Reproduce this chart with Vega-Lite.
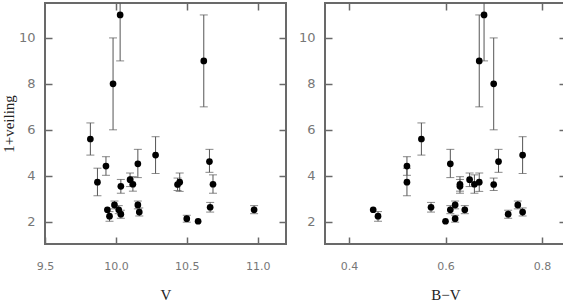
{
  "$schema": "https://vega.github.io/schema/vega-lite/v6.json",
  "padding": {"left": 0, "top": 1, "right": 1, "bottom": 0},
  "spacing": 9,
  "config": {
    "view": {"stroke": "dimgray", "strokeWidth": 2},
    "axis": {"grid": false, "domain": false, "tickColor": "dimgray", "tickSize": 7, "tickWidth": 1.5, "offset": -7,
      "labelFlush": false,
      "labelFont": "DejaVu Sans", "labelColor": "#777",
      "titleFont": "Liberation Serif", "titleFontWeight": "normal", "titleColor": "#222"}
  },
  "datasets": {
    "pts": [
      {"V": 9.82, "BV": 0.55, "y": 5.6},
      {"V": 9.98, "BV": 0.70, "y": 8.0},
      {"V": 10.03, "BV": 0.68, "y": 11.0},
      {"V": 10.62, "BV": 0.67, "y": 9.0},
      {"V": 10.28, "BV": 0.76, "y": 4.9},
      {"V": 9.87, "BV": 0.52, "y": 3.72},
      {"V": 9.93, "BV": 0.52, "y": 4.42},
      {"V": 9.94, "BV": 0.45, "y": 2.52},
      {"V": 9.955, "BV": 0.46, "y": 2.24},
      {"V": 9.99, "BV": 0.62, "y": 2.73},
      {"V": 10.02, "BV": 0.61, "y": 2.52},
      {"V": 10.035, "BV": 0.73, "y": 2.33},
      {"V": 10.035, "BV": 0.63, "y": 3.54},
      {"V": 10.10, "BV": 0.65, "y": 3.83},
      {"V": 10.12, "BV": 0.63, "y": 3.63},
      {"V": 10.155, "BV": 0.61, "y": 4.52},
      {"V": 10.155, "BV": 0.75, "y": 2.73},
      {"V": 10.165, "BV": 0.76, "y": 2.42},
      {"V": 10.435, "BV": 0.70, "y": 3.62},
      {"V": 10.45, "BV": 0.67, "y": 3.72},
      {"V": 10.50, "BV": 0.62, "y": 2.13},
      {"V": 10.58, "BV": 0.60, "y": 2.02},
      {"V": 10.66, "BV": 0.71, "y": 4.62},
      {"V": 10.665, "BV": 0.57, "y": 2.63},
      {"V": 10.685, "BV": 0.66, "y": 3.63},
      {"V": 10.975, "BV": 0.64, "y": 2.52}
    ],
    "err": [
      {"V": 9.82, "BV": 0.55, "lo": 4.9, "hi": 6.3},
      {"V": 9.98, "BV": 0.70, "lo": 6.0, "hi": 10.0},
      {"V": 10.03, "BV": 0.68, "lo": 9.0, "hi": 13.0},
      {"V": 10.62, "BV": 0.67, "lo": 7.0, "hi": 11.0},
      {"V": 10.28, "BV": 0.76, "lo": 4.1, "hi": 5.7},
      {"V": 9.87, "BV": 0.52, "lo": 3.13, "hi": 4.33},
      {"V": 9.93, "BV": 0.52, "lo": 4.02, "hi": 4.83},
      {"V": 9.955, "BV": 0.46, "lo": 2.02, "hi": 2.44},
      {"V": 9.99, "BV": 0.62, "lo": 2.56, "hi": 2.9},
      {"V": 10.02, "BV": 0.61, "lo": 2.35, "hi": 2.7},
      {"V": 10.035, "BV": 0.73, "lo": 2.15, "hi": 2.5},
      {"V": 10.035, "BV": 0.63, "lo": 3.24, "hi": 3.84},
      {"V": 10.10, "BV": 0.65, "lo": 3.53, "hi": 4.12},
      {"V": 10.12, "BV": 0.63, "lo": 3.33, "hi": 3.96},
      {"V": 10.155, "BV": 0.61, "lo": 3.92, "hi": 5.15},
      {"V": 10.155, "BV": 0.75, "lo": 2.56, "hi": 2.9},
      {"V": 10.165, "BV": 0.76, "lo": 2.25, "hi": 2.6},
      {"V": 10.435, "BV": 0.70, "lo": 3.36, "hi": 3.9},
      {"V": 10.45, "BV": 0.67, "lo": 3.32, "hi": 4.12},
      {"V": 10.50, "BV": 0.62, "lo": 1.98, "hi": 2.28},
      {"V": 10.66, "BV": 0.71, "lo": 4.15, "hi": 5.15},
      {"V": 10.665, "BV": 0.57, "lo": 2.42, "hi": 2.84},
      {"V": 10.685, "BV": 0.66, "lo": 3.24, "hi": 4.04},
      {"V": 10.975, "BV": 0.64, "lo": 2.35, "hi": 2.7}
    ]
  },
  "hconcat": [
    {
      "width": 241, "height": 241,
      "resolve": {"axis": {"x": "independent", "y": "independent"}},
      "layer": [
        {
          "data": {"name": "err"},
          "mark": {"type": "rule", "color": "#555", "strokeWidth": 1, "clip": true},
          "encoding": {
            "x": {"field": "V", "type": "quantitative", "scale": {"domain": [9.5, 11.2], "nice": false, "zero": false},
              "axis": {"orient": "bottom", "values": [9.5, 10, 10.5, 11], "format": ".1f", "labelFontSize": 11, "labelPadding": 16, "title": "V", "titleFontSize": 15, "titlePadding": 16}},
            "y": {"field": "lo", "type": "quantitative", "scale": {"domain": [1.03, 11.52], "nice": false, "zero": false},
              "axis": {"orient": "left", "values": [2, 4, 6, 8, 10], "labelFontSize": 13, "labelPadding": 10, "title": "1+veiling", "titleFontSize": 15, "titlePadding": 2}},
            "y2": {"field": "hi"}
          }
        },
        {
          "data": {"name": "err"},
          "mark": {"type": "tick", "orient": "horizontal", "size": 8, "thickness": 1, "color": "#555", "clip": true},
          "encoding": {
            "x": {"field": "V", "type": "quantitative", "axis": {"orient": "top", "values": [10, 10.5, 11], "labels": false, "title": null}},
            "y": {"field": "lo", "type": "quantitative", "axis": {"orient": "right", "values": [2, 4, 6, 8, 10], "labels": false, "title": null}}
          }
        },
        {
          "data": {"name": "err"},
          "mark": {"type": "tick", "orient": "horizontal", "size": 8, "thickness": 1, "color": "#555", "clip": true},
          "encoding": {
            "x": {"field": "V", "type": "quantitative", "axis": null},
            "y": {"field": "hi", "type": "quantitative", "axis": null}
          }
        },
        {
          "data": {"name": "pts"},
          "mark": {"type": "circle", "size": 45, "color": "#000", "opacity": 1},
          "encoding": {
            "x": {"field": "V", "type": "quantitative", "axis": null},
            "y": {"field": "y", "type": "quantitative", "axis": null}
          }
        }
      ]
    },
    {
      "width": 241, "height": 241,
      "resolve": {"axis": {"x": "independent", "y": "independent"}},
      "layer": [
        {
          "data": {"name": "err"},
          "mark": {"type": "rule", "color": "#555", "strokeWidth": 1, "clip": true},
          "encoding": {
            "x": {"field": "BV", "type": "quantitative", "scale": {"domain": [0.35, 0.85], "nice": false, "zero": false},
              "axis": {"orient": "bottom", "values": [0.4, 0.6, 0.8], "format": ".1f", "labelFontSize": 11, "labelPadding": 16, "title": "B\u2212V", "titleFontSize": 15, "titlePadding": 16}},
            "y": {"field": "lo", "type": "quantitative", "scale": {"domain": [1.03, 11.52], "nice": false, "zero": false},
              "axis": {"orient": "left", "values": [2, 4, 6, 8, 10], "labelFontSize": 13, "labelPadding": 10, "title": null}},
            "y2": {"field": "hi"}
          }
        },
        {
          "data": {"name": "err"},
          "mark": {"type": "tick", "orient": "horizontal", "size": 8, "thickness": 1, "color": "#555", "clip": true},
          "encoding": {
            "x": {"field": "BV", "type": "quantitative", "axis": {"orient": "top", "values": [0.4, 0.6, 0.8], "labels": false, "title": null}},
            "y": {"field": "lo", "type": "quantitative", "axis": {"orient": "right", "values": [2, 4, 6, 8, 10], "labels": false, "title": null}}
          }
        },
        {
          "data": {"name": "err"},
          "mark": {"type": "tick", "orient": "horizontal", "size": 8, "thickness": 1, "color": "#555", "clip": true},
          "encoding": {
            "x": {"field": "BV", "type": "quantitative", "axis": null},
            "y": {"field": "hi", "type": "quantitative", "axis": null}
          }
        },
        {
          "data": {"name": "pts"},
          "mark": {"type": "circle", "size": 45, "color": "#000", "opacity": 1},
          "encoding": {
            "x": {"field": "BV", "type": "quantitative", "axis": null},
            "y": {"field": "y", "type": "quantitative", "axis": null}
          }
        }
      ]
    }
  ]
}
